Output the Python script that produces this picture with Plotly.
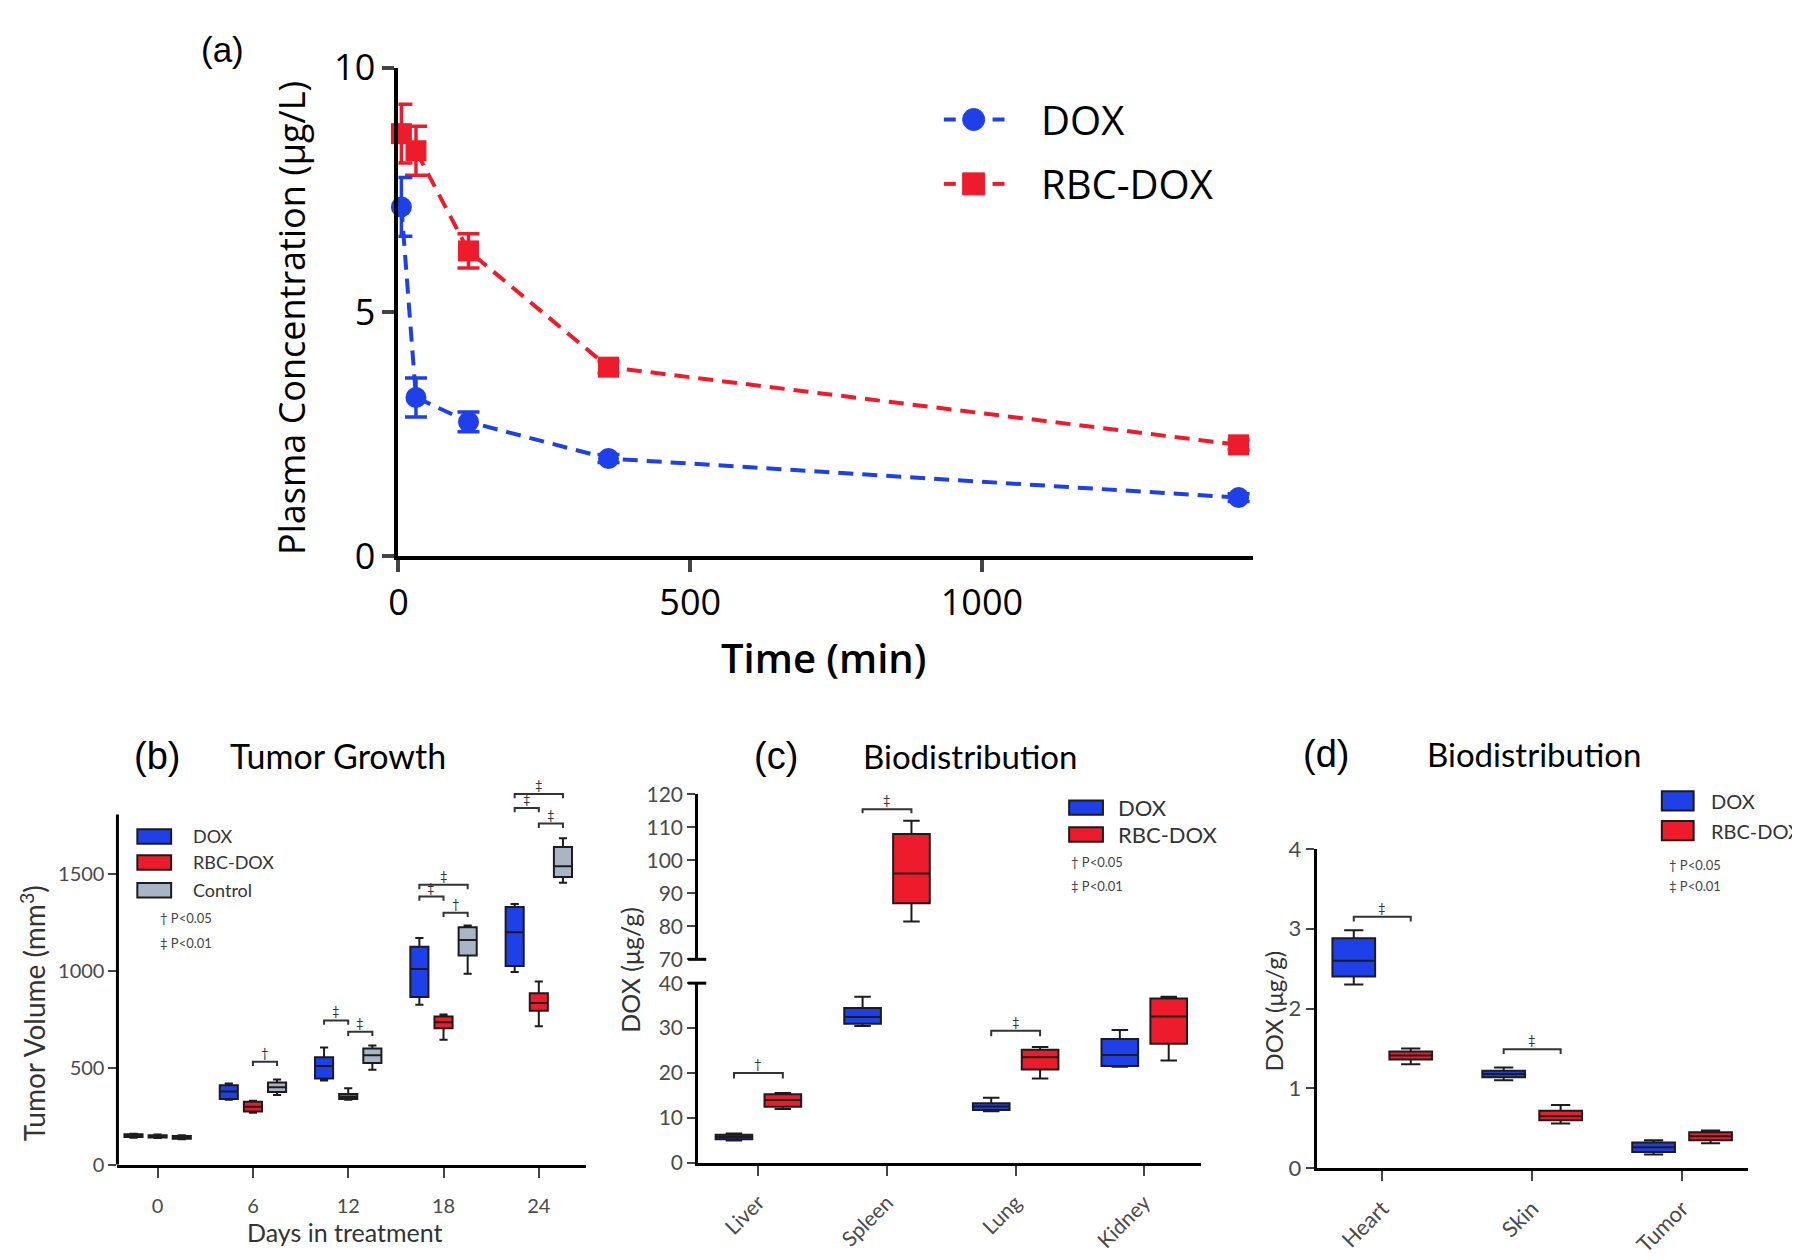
import plotly.graph_objects as go

BLUE = "#1f3fe8"
RED = "#ee1b2d"
GREY = "#a9b5c4"
EDGE = "#1c1c1c"
W, H = 1800, 1260

# ---- (a) plasma concentration ----
pk_time = [5, 30, 120, 360, 1440]
pk_dox = [7.15, 3.25, 2.75, 2.0, 1.2]
pk_dox_err = [0.6, 0.4, 0.2, 0.08, 0.08]
pk_rbc = [8.65, 8.3, 6.25, 3.87, 2.28]
pk_rbc_err = [0.6, 0.5, 0.35, 0.12, 0.1]

# ---- (b) tumor growth (box stats per day) ----
days = [0, 6, 12, 18, 24]
tg_dox = dict(lowerfence=[140, 335, 435, 825, 995], q1=[143, 340, 445, 865, 1025],
              median=[150, 378, 510, 1010, 1200], q3=[157, 410, 555, 1125, 1330],
              upperfence=[160, 420, 605, 1170, 1345])
tg_rbc = dict(lowerfence=[138, 268, 335, 645, 715], q1=[141, 275, 340, 705, 795],
              median=[147, 300, 350, 735, 835], q3=[153, 325, 365, 765, 885],
              upperfence=[156, 330, 395, 775, 945])
tg_ctrl = dict(lowerfence=[132, 360, 490, 985, 1455], q1=[135, 375, 525, 1080, 1485],
               median=[142, 400, 565, 1160, 1540], q3=[148, 425, 600, 1225, 1640],
               upperfence=[152, 440, 615, 1235, 1685])
# (day, left group, right group, level, mark)
tg_brackets = [(6, 1, 2, 532, "†"), (12, 0, 1, 745, "‡"), (12, 1, 2, 686, "‡"),
               (18, 0, 2, 1444, "‡"), (18, 0, 1, 1384, "‡"), (18, 1, 2, 1300, "†"),
               (24, 0, 2, 1913, "‡"), (24, 0, 1, 1841, "‡"), (24, 1, 2, 1760, "‡")]

# ---- (c) biodistribution organs ----
organs = ["Liver", "Spleen", "Lung", "Kidney"]
org_dox = dict(lowerfence=[5.0, 30.5, 11.5, 21.4], q1=[5.3, 31.0, 11.8, 21.6],
               median=[5.8, 32.5, 12.6, 24.0], q3=[6.3, 34.5, 13.3, 27.6],
               upperfence=[6.6, 37.0, 14.5, 29.6])
org_rbc = dict(lowerfence=[12.0, 81.5, 18.8, 22.8], q1=[12.5, 87.0, 20.8, 26.5],
               median=[14.0, 96.0, 23.5, 32.6], q3=[15.3, 108.0, 25.2, 36.6],
               upperfence=[15.6, 112.0, 25.8, 37.0])
org_brackets = [(0, 20.0, "†"), (1, 115.5, "‡"), (2, 29.4, "‡")]

# ---- (d) biodistribution tissues ----
tissues = ["Heart", "Skin", "Tumor"]
tis_dox = dict(lowerfence=[2.30, 1.10, 0.17], q1=[2.40, 1.14, 0.20], median=[2.60, 1.18, 0.26],
               q3=[2.88, 1.22, 0.32], upperfence=[2.98, 1.26, 0.35])
tis_rbc = dict(lowerfence=[1.30, 0.56, 0.31], q1=[1.36, 0.60, 0.35], median=[1.41, 0.65, 0.40],
               q3=[1.46, 0.72, 0.45], upperfence=[1.50, 0.79, 0.47])
tis_brackets = [(0, 3.15, "‡"), (1, 1.49, "‡")]

BOXGAP = 0.24
BOXGROUPGAP = 0.25


def group_center(pos, k, n, dpos):
    # same offset rule plotly uses for boxmode="group"
    return pos + 2 * dpos * (-0.5 + (k + 0.5) / n) * (1 - BOXGAP)


def P(x, y):
    return x / W, 1 - y / H


fig = go.Figure()

# (a) traces: RBC first so DOX sits on top
for name, yv, err, col, sym in [("RBC-DOX", pk_rbc, pk_rbc_err, RED, "square"),
                                ("DOX", pk_dox, pk_dox_err, BLUE, "circle")]:
    fig.add_trace(go.Scatter(
        x=pk_time, y=yv, name=name, mode="lines+markers",
        line=dict(color=col, width=4, dash="15px,9px"),
        marker=dict(symbol=sym, size=21, color=col),
        error_y=dict(type="data", array=err, color=col, thickness=3.5, width=11),
        cliponaxis=False, showlegend=False, xaxis="x", yaxis="y",
    ))

# (b) boxes
for name, st, col in [("DOX", tg_dox, BLUE), ("RBC-DOX", tg_rbc, RED), ("Control", tg_ctrl, GREY)]:
    fig.add_trace(go.Box(
        x=days, **st, name=name, fillcolor=col, line=dict(color=EDGE, width=2),
        whiskerwidth=0.45, showlegend=False, offsetgroup=name, alignmentgroup="b",
        xaxis="x2", yaxis="y2", hoverinfo="skip",
    ))

# (c) boxes, drawn on both halves of the broken axis
for yax in ["y3", "y4"]:
    for name, st, col in [("DOX", org_dox, BLUE), ("RBC-DOX", org_rbc, RED)]:
        fig.add_trace(go.Box(
            x=list(range(len(organs))), **st, name=name, fillcolor=col,
            line=dict(color=EDGE, width=2), whiskerwidth=0.45, showlegend=False,
            offsetgroup=name, alignmentgroup="c", xaxis="x3", yaxis=yax, hoverinfo="skip",
        ))

# (d) boxes
for name, st, col in [("DOX", tis_dox, BLUE), ("RBC-DOX", tis_rbc, RED)]:
    fig.add_trace(go.Box(
        x=list(range(len(tissues))), **st, name=name, fillcolor=col,
        line=dict(color=EDGE, width=2), whiskerwidth=0.45, showlegend=False,
        offsetgroup=name, alignmentgroup="d", xaxis="x4", yaxis="y5", hoverinfo="skip",
    ))

annotations = []


def bracket(x0, x1, y, dip, mark, xa, ya):
    fig.add_trace(go.Scatter(
        x=[x0, x0, x1, x1], y=[y - dip, y, y, y - dip], mode="lines",
        line=dict(color="#333333", width=2), showlegend=False, hoverinfo="skip",
        xaxis=xa, yaxis=ya,
    ))
    annotations.append(dict(x=(x0 + x1) / 2, y=y, xref=xa, yref=ya, text=mark,
                            showarrow=False, yshift=9, font=dict(family="Lato", size=13, color="#333")))


for d, a, b, lvl, mark in tg_brackets:
    bracket(group_center(d, a, 3, 3), group_center(d, b, 3, 3), lvl, 22, mark, "x2", "y2")
for i, lvl, mark in org_brackets:
    ya = "y4" if lvl > 40 else "y3"
    bracket(group_center(i, 0, 2, 0.5), group_center(i, 1, 2, 0.5), lvl, 1.2, mark, "x3", ya)
for i, lvl, mark in tis_brackets:
    bracket(group_center(i, 0, 2, 0.5), group_center(i, 1, 2, 0.5), lvl, 0.06, mark, "x4", "y5")


def text(x, y, s, size, family="Lato", color="black", xanchor="center", angle=0, weight=None):
    xx, yy = P(x, y)
    f = dict(family=family, size=size, color=color)
    if weight:
        f["weight"] = weight
    annotations.append(dict(x=xx, y=yy, xref="paper", yref="paper", text=s, showarrow=False,
                            xanchor=xanchor, yanchor="middle", textangle=angle, font=f))


# panel letters and titles
text(206, 17, "(a)", 35, "Liberation Sans")
text(140, 752, "(b)", 38, "Liberation Sans")
text(762, 752, "(c)", 38, "Liberation Sans")
text(1315, 750, "(d)", 38, "Liberation Sans")
text(322, 752, "Tumor Growth", 34)
text(957, 752, "Biodistribution", 33)
text(1524, 750, "Biodistribution", 33)

# axis titles
text(275, 296, "Plasma Concentration (μg/L)", 36, "Open Sans", angle=-90)
text(810, 650, "Time (min)", 40, "Open Sans", weight=600)
text(15, 1020, "Tumor Volume (mm<sup>3</sup>)", 28, color="#333", angle=-90)
text(329, 1247, "Days in treatment", 25, color="#333")
text(616, 975, "DOX (μg/g)", 25, color="#333", angle=-90)
text(1262, 1018, "DOX (μg/g)", 24, color="#333", angle=-90)

shapes = []

# (a) legend
for yc, col, nm, kind in [(90, BLUE, "DOX", "circle"), (157, RED, "RBC-DOX", "rect")]:
    for xa0, xa1 in [(931, 943), (980, 992)]:
        x0, y0 = P(xa0, yc)
        x1, _ = P(xa1, yc)
        shapes.append(dict(type="line", xref="paper", yref="paper", x0=x0, x1=x1, y0=y0, y1=y0,
                           line=dict(color=col, width=4)))
    cx, cy = P(961, yc)
    shapes.append(dict(type=kind, xref="paper", yref="paper", xsizemode="pixel", ysizemode="pixel",
                       xanchor=cx, yanchor=cy, x0=-11, x1=11, y0=-11, y1=11,
                       fillcolor=col, line=dict(color=col, width=1)))
    text(1027, yc, nm, 40, "Open Sans", xanchor="left")


def swatch(x0, x1, yc, h, col):
    a, b = P(x0, yc - h / 2)
    c, d = P(x1, yc + h / 2)
    shapes.append(dict(type="rect", xref="paper", yref="paper", x0=a, x1=c, y0=d, y1=b,
                       fillcolor=col, line=dict(color=EDGE, width=2)))


# (b) legend
for yc, col, nm in [(836, BLUE, "DOX"), (863, RED, "RBC-DOX"), (892, GREY, "Control")]:
    swatch(120, 154, yc, 15, col)
    text(174, yc, nm, 18, color="#333", xanchor="left")
text(141, 921, "† P<0.05", 13, color="#444", xanchor="left")
text(141, 947, "‡ P<0.01", 13, color="#444", xanchor="left")

# (c) legend
for yc, col, nm in [(806, BLUE, "DOX"), (834, RED, "RBC-DOX")]:
    swatch(1057, 1091, yc, 15, col)
    text(1104, yc, nm, 22, color="#333", xanchor="left")
text(1057, 863, "† P<0.05", 13, color="#444", xanchor="left")
text(1057, 887, "‡ P<0.01", 13, color="#444", xanchor="left")

# (d) legend
for yc, col, nm in [(799, BLUE, "DOX"), (830, RED, "RBC-DOX")]:
    swatch(1653, 1685, yc, 20, col)
    text(1700, yc, nm, 20, color="#333", xanchor="left")
text(1658, 866, "† P<0.05", 13, color="#444", xanchor="left")
text(1658, 887, "‡ P<0.01", 13, color="#444", xanchor="left")

# (b) y axis line stops near 1800, brackets sit above it
shapes.append(dict(type="line", xref="x2 domain", yref="y2", x0=0, x1=0, y0=0, y1=1807,
                   line=dict(color="black", width=3)))
# (c) axis break marks
shapes.append(dict(type="line", xref="x3 domain", yref="y3 domain", x0=-0.02, x1=0.016, y0=1, y1=1,
                   line=dict(color="black", width=3)))
shapes.append(dict(type="line", xref="x3 domain", yref="y4 domain", x0=-0.02, x1=0.016, y0=0, y1=0,
                   line=dict(color="black", width=3)))


def dom(p0, p1):
    return [p0 / W, p1 / W]


def ydom(top, bottom):
    return [1 - bottom / H, 1 - top / H]


gp_tick = dict(family="Lato", size=20, color="#4a4a4a")
common = dict(showgrid=False, zeroline=False, ticks="outside", linecolor="black")
b_zero, b_px = 1177.6, 0.2017

fig.update_layout(
    width=W, height=H, margin=dict(l=0, r=0, t=0, b=0),
    paper_bgcolor="white", plot_bgcolor="white",
    boxmode="group", boxgap=BOXGAP, boxgroupgap=BOXGROUPGAP,
    showlegend=False,
    xaxis=dict(domain=dom(382.6, 1241.5), anchor="y", range=[0, 1464], tickvals=[0, 500, 1000],
               showline=True, linewidth=4, ticklen=12, tickwidth=4,
               tickfont=dict(family="Open Sans", size=36, color="black"), **common),
    yaxis=dict(domain=ydom(36.1, 544.4), anchor="x", range=[0, 10], tickvals=[0, 5, 10],
               showline=True, linewidth=4, ticklen=12, tickwidth=4,
               tickfont=dict(family="Open Sans", size=36, color="black"), **common),
    xaxis2=dict(domain=dom(100, 571), anchor="y2", range=[-2.53, 26.96], tickvals=days,
                showline=True, linewidth=3, ticklen=10, tickwidth=2, ticklabelstandoff=11,
                tickfont=gp_tick, **common),
    yaxis2=dict(domain=ydom(b_zero - 1935 * b_px, b_zero), anchor="x2", range=[0, 1935],
                tickvals=[0, 500, 1000, 1500], showline=False, ticklen=8, tickwidth=2,
                tickfont=gp_tick, **common),
    xaxis3=dict(domain=dom(684, 1190), anchor="y3", range=[-0.468, 3.444],
                tickvals=list(range(len(organs))), ticktext=organs, tickangle=-45,
                showline=True, linewidth=3, ticklen=10, tickwidth=2, ticklabelstandoff=6,
                tickfont=dict(family="Lato", size=21, color="#4a4a4a"), **common),
    yaxis3=dict(domain=ydom(988.6, 1175.8), anchor="x3", range=[0, 40],
                tickvals=[0, 10, 20, 30, 40], showline=True, linewidth=3, ticklen=8, tickwidth=2,
                tickfont=dict(family="Lato", size=21, color="#4a4a4a"), **common),
    yaxis4=dict(domain=ydom(792.3, 963.8), anchor="x3", range=[70, 120],
                tickvals=[70, 80, 90, 100, 110, 120], showline=True, linewidth=3, ticklen=8,
                tickwidth=2, tickfont=dict(family="Lato", size=21, color="#4a4a4a"), **common),
    xaxis4=dict(domain=dom(1306, 1740), anchor="y5", range=[-0.437, 2.442],
                tickvals=list(range(len(tissues))), ticktext=tissues, tickangle=-45,
                showline=True, linewidth=3, ticklen=10, tickwidth=2, ticklabelstandoff=6,
                tickfont=dict(family="Lato", size=22, color="#4a4a4a"), **common),
    yaxis5=dict(domain=ydom(849, 1181), anchor="x4", range=[0, 4], tickvals=[0, 1, 2, 3, 4],
                showline=True, linewidth=3, ticklen=8, tickwidth=2,
                tickfont=dict(family="Lato", size=22, color="#4a4a4a"), **common),
    annotations=annotations,
    shapes=shapes,
)

fig.write_html("out.html")
